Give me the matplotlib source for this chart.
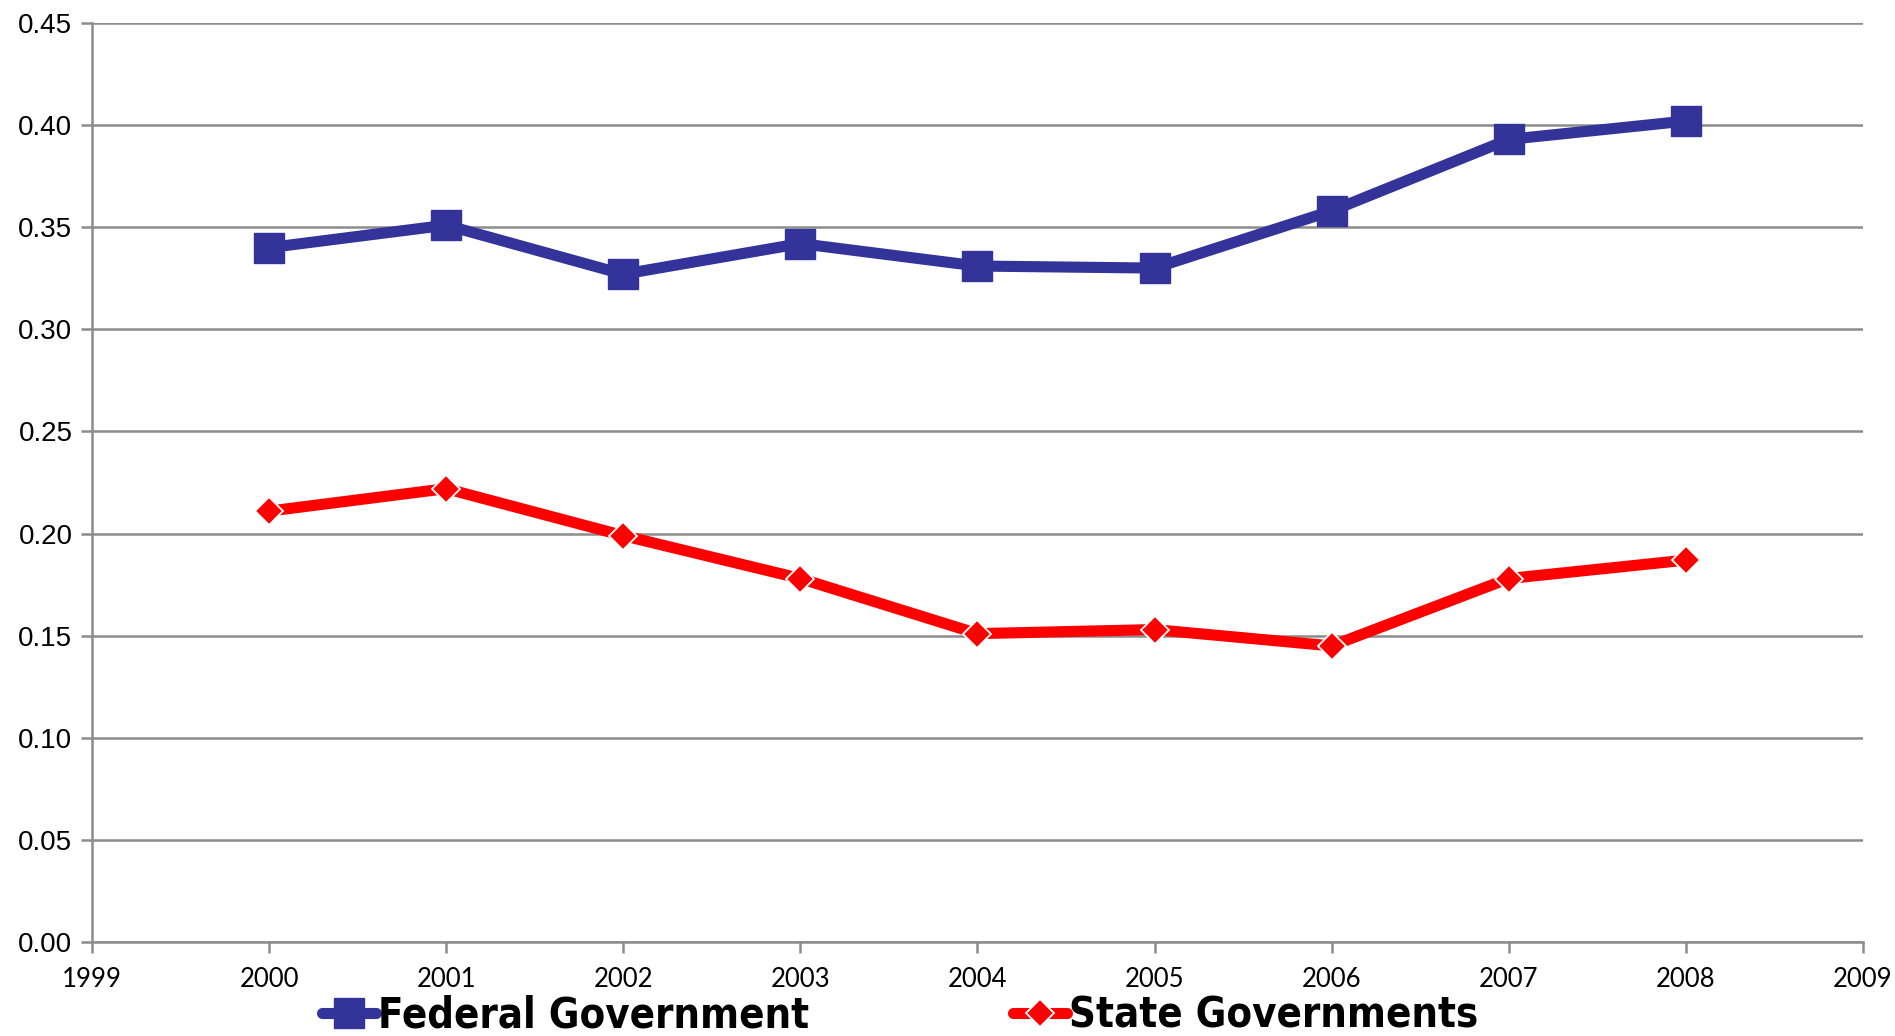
import matplotlib
matplotlib.use('Agg')
import matplotlib.pyplot as plt

# data
years = [2000, 2001, 2002, 2003, 2004, 2005, 2006, 2007, 2008]
federal = [0.340, 0.351, 0.327, 0.342, 0.331, 0.330, 0.358, 0.393, 0.402]
state = [0.211, 0.222, 0.199, 0.178, 0.151, 0.153, 0.145, 0.178, 0.187]
yticks = [0.00, 0.05, 0.10, 0.15, 0.20, 0.25, 0.30, 0.35, 0.40, 0.45]
xticks = list(range(1999, 2010))

grey = '#8c8c8c'

fig = plt.figure(figsize=(18.95, 10.36), dpi=100)
ax = fig.add_axes([0.0485, 0.0907, 0.9346, 0.8871])

ax.plot(years, federal, color='#333399', lw=8, marker='s', ms=21,
        mec='#333399', label='Federal Government', solid_capstyle='round')
ax.plot(years, state, color='#ff0000', lw=8, marker='D', ms=14,
        mec='white', mew=1.3, label='State Governments', solid_capstyle='round')

ax.set_xlim(1999, 2009)
ax.set_ylim(0, 0.45)
ax.set_yticks(yticks)
ax.set_yticklabels(['%.2f' % v for v in yticks], family=['Liberation Sans', 'DejaVu Sans'], fontsize=20)
ax.set_xticks(xticks)
ax.set_xticklabels([str(x) for x in xticks], family=['Lato', 'DejaVu Sans'], fontsize=18.5)

ax.yaxis.grid(True, color=grey, lw=1.8)
ax.set_axisbelow(True)
for s in ['top', 'right']:
    ax.spines[s].set_visible(False)
for s in ['left', 'bottom']:
    ax.spines[s].set_color(grey)
    ax.spines[s].set_linewidth(1.8)
ax.tick_params(axis='both', color=grey, width=1.8, length=8, pad=6)
ax.tick_params(axis='x', pad=10)

fig.legend(loc='lower center', bbox_to_anchor=(0.475, -0.021), ncol=2,
           frameon=False, borderpad=0, handlelength=1.3, handletextpad=0.05, columnspacing=4.9,
           prop={'family': 'DejaVu Sans', 'stretch': 'condensed', 'weight': 'bold', 'size': 30})

fig.savefig('out.png', dpi=100)
